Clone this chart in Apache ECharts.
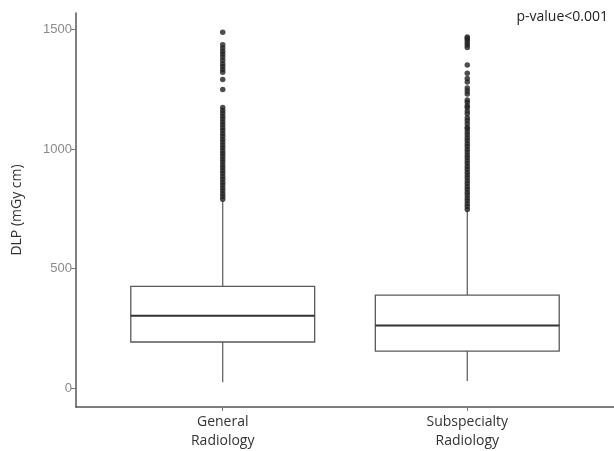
<!DOCTYPE html>
<html>
<head>
<meta charset="utf-8">
<script src="https://cdn.jsdelivr.net/npm/echarts@6/dist/echarts.min.js"></script>
<style>
  html, body { margin: 0; padding: 0; background: #fff; }
  #chart { width: 614px; height: 451px; }
</style>
</head>
<body>
<div id="chart"></div>
<script>
// categories and box statistics: [position, lower whisker, Q1, median, Q3, upper whisker]
const categories = ['General\nRadiology', 'Subspecialty\nRadiology']
const boxStats = [
  [1, 25, 193, 303, 426, 785],
  [2, 30, 155, 262, 389, 743]
]
// outliers
const outliersGeneral = [790, 802, 814, 826, 838, 850, 862, 874, 886, 898, 910, 922, 934, 946, 958, 970, 982,
  994, 1006, 1018, 1030, 1042, 1054, 1066, 1078, 1090, 1102, 1114, 1126, 1138, 1150, 1162, 1175,
  1250, 1292, 1322, 1334, 1346, 1358, 1372, 1386, 1398, 1410, 1424, 1437, 1489]
const outliersSub = [748, 760, 772, 784, 796, 808, 820, 832, 844, 856, 868, 880, 892, 904, 916, 928, 940,
  952, 964, 976, 988, 1000, 1012, 1024, 1036, 1048, 1060, 1072, 1084, 1092,
  1106, 1120, 1132, 1148, 1160, 1175, 1182, 1196, 1206, 1231, 1244, 1256, 1281, 1296, 1318, 1352,
  1426, 1436, 1446, 1456, 1464, 1470]
const yTicks = [0, 500, 1000, 1500]

const outlierData = outliersGeneral.map(v => [1, v]).concat(outliersSub.map(v => [2, v]))

const chart = echarts.init(document.getElementById('chart'))

function renderBox (params, api) {
  const x = api.value(0)
  const lo = api.coord([x, api.value(1)])
  const q1 = api.coord([x, api.value(2)])
  const med = api.coord([x, api.value(3)])
  const q3 = api.coord([x, api.value(4)])
  const hi = api.coord([x, api.value(5)])
  const half = api.size([0.376, 0])[0]
  const whisker = { stroke: '#5a5a5a', lineWidth: 1.2 }
  return {
    type: 'group',
    children: [
      { type: 'line', shape: { x1: lo[0], y1: lo[1], x2: q1[0], y2: q1[1] }, style: whisker },
      { type: 'line', shape: { x1: q3[0], y1: q3[1], x2: hi[0], y2: hi[1] }, style: whisker },
      {
        type: 'rect',
        shape: { x: q3[0] - half, y: q3[1], width: half * 2, height: q1[1] - q3[1] },
        style: { fill: '#fff', stroke: '#5a5a5a', lineWidth: 1.3 }
      },
      {
        type: 'line',
        shape: { x1: med[0] - half, y1: med[1], x2: med[0] + half, y2: med[1] },
        style: { stroke: '#333', lineWidth: 2.2 }
      }
    ]
  }
}

chart.setOption({
  animation: false,
  backgroundColor: '#fff',
  grid: { left: 76, top: 13, bottom: 42, right: -11 },
  xAxis: {
    type: 'value',
    min: 0.4,
    max: 2.6,
    splitLine: { show: false },
    axisLine: { show: true, onZero: false, lineStyle: { color: '#555', width: 1.5 } },
    axisTick: { show: true, customValues: [1, 2], length: 4, lineStyle: { color: '#777' } },
    axisLabel: {
      customValues: [1, 2],
      formatter: v => categories[Math.round(v) - 1],
      color: '#333',
      fontSize: 14,
      lineHeight: 19,
      margin: 6,
      fontFamily: 'Open Sans'
    }
  },
  yAxis: {
    type: 'value',
    min: -79,
    max: 1570,
    name: 'DLP (mGy cm)',
    nameLocation: 'middle',
    nameGap: 52,
    nameTextStyle: { color: '#333', fontSize: 14, fontFamily: 'Open Sans' },
    splitLine: { show: false },
    axisLine: { show: true, onZero: false, lineStyle: { color: '#555', width: 1.5 } },
    axisTick: { show: true, customValues: yTicks, length: 5, lineStyle: { color: '#777' } },
    axisLabel: {
      customValues: yTicks,
      formatter: v => String(v),
      color: '#8a8a8a',
      fontSize: 13,
      margin: 4,
      fontFamily: 'Liberation Sans'
    }
  },
  graphic: [{
    type: 'text',
    right: 6,
    top: 10,
    style: { text: 'p-value<0.001', fill: '#222', fontSize: 14, fontFamily: 'Open Sans' }
  }],
  series: [
    {
      type: 'custom',
      renderItem: renderBox,
      encode: { x: 0, y: [1, 2, 3, 4, 5] },
      data: boxStats,
      z: 2
    },
    {
      type: 'scatter',
      data: outlierData,
      symbolSize: 5.5,
      itemStyle: { color: '#222' },
      z: 3
    }
  ]
})
</script>
</body>
</html>
